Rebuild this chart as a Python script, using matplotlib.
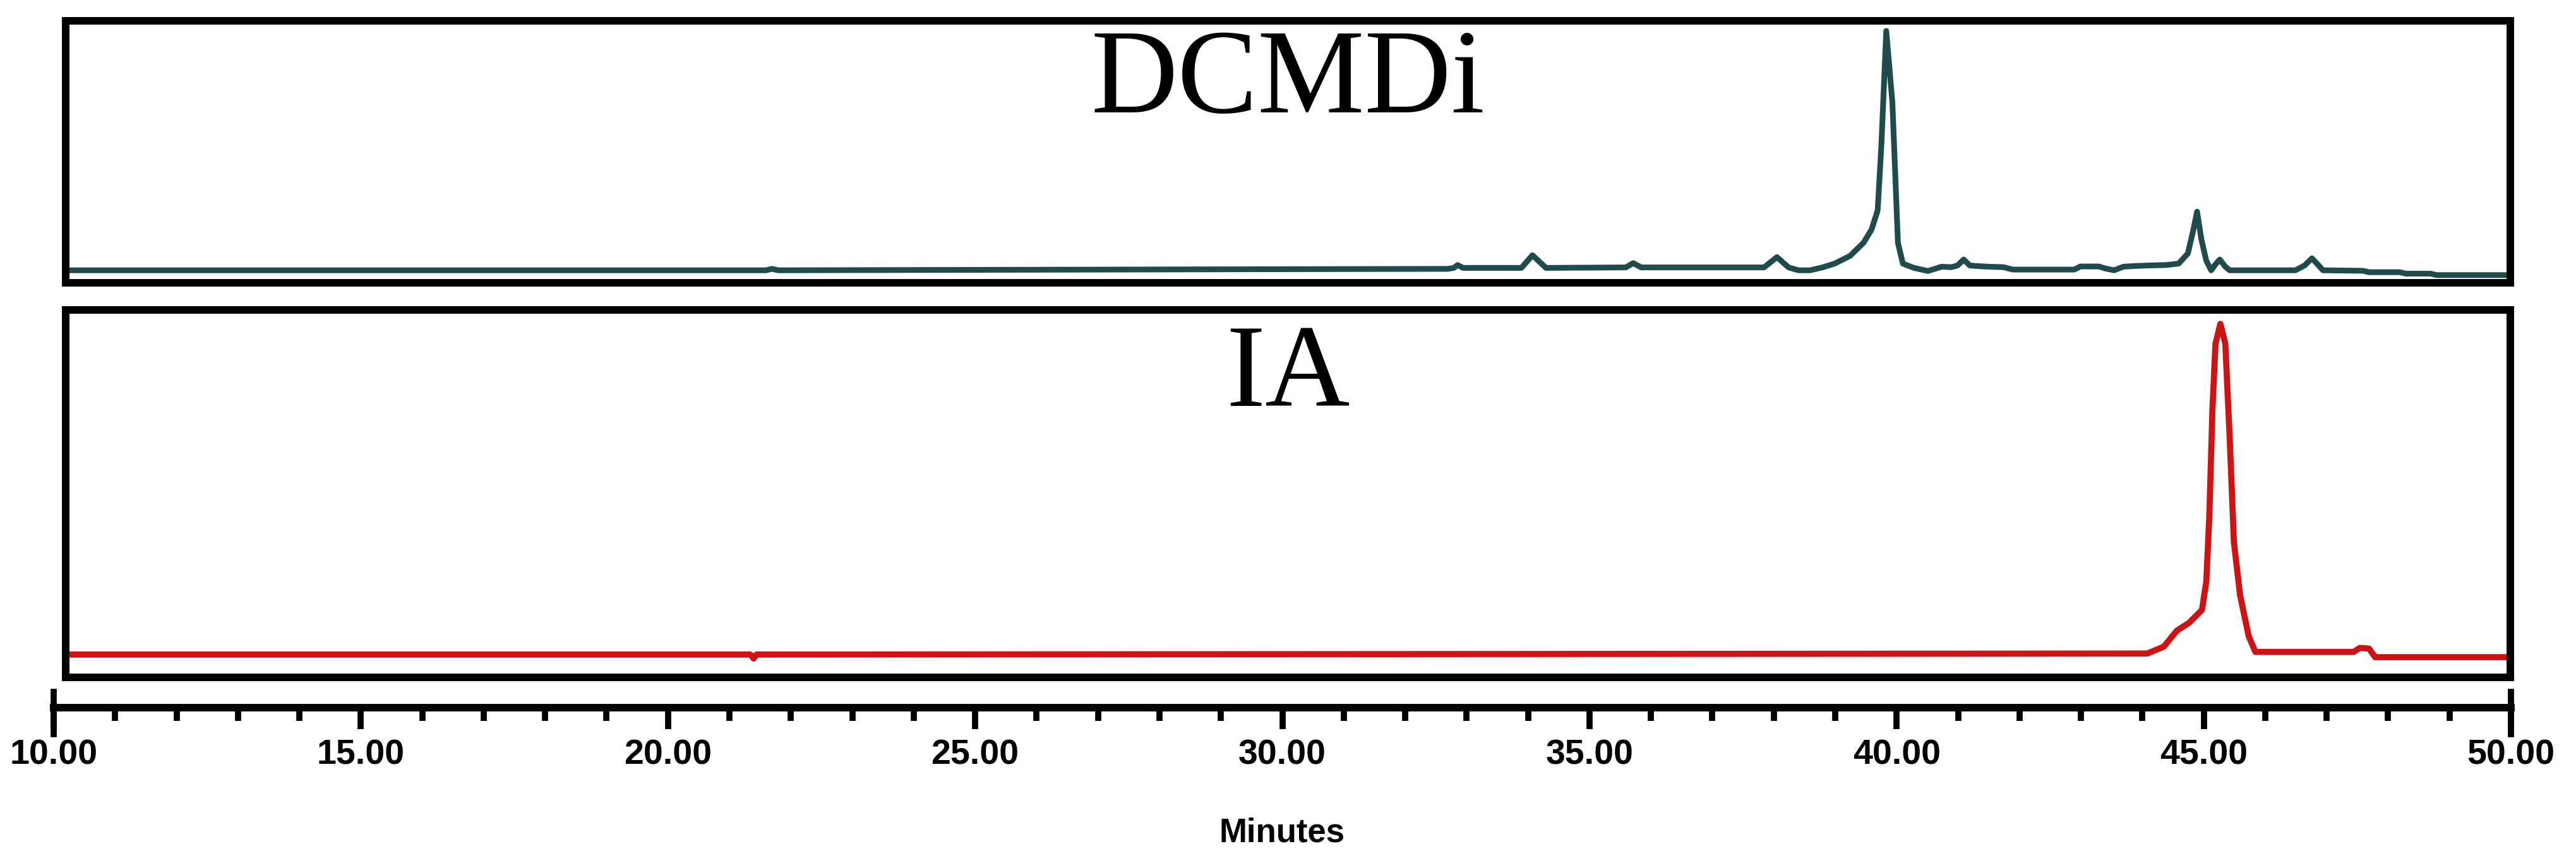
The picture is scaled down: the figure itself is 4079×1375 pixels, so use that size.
import matplotlib
matplotlib.use("Agg")
import matplotlib.pyplot as plt
from matplotlib.ticker import FixedLocator, MultipleLocator

# DCMDi trace (minutes, relative response)
dcmdi_t = [10.2, 21.6, 21.7, 21.8, 32.7, 32.8, 32.86, 32.95, 33.9, 34.08, 34.3,
           35.6, 35.72, 35.85, 37.85, 38.06, 38.25, 38.41, 38.6, 38.8, 39.0,
           39.25, 39.47, 39.6, 39.70, 39.76, 39.84, 39.94, 40.03, 40.11, 40.29,
           40.52, 40.74, 40.9, 41.0, 41.1, 41.2, 41.3, 41.5, 41.75, 41.9, 42.9,
           43.0, 43.3, 43.4, 43.55, 43.7, 43.9, 44.1, 44.4, 44.6, 44.75, 44.84,
           44.9, 44.97, 45.05, 45.13, 45.2, 45.27, 45.36, 45.43, 46.5, 46.65,
           46.77, 46.88, 46.95, 47.6, 47.7, 48.2, 48.3, 48.7, 48.8, 50.0]
dcmdi_y = [0.0, 0.0, 0.6, 0.0, 0.6, 1.0, 2.2, 1.0, 1.0, 6.3, 1.0,
           1.2, 3.0, 1.2, 1.2, 5.5, 1.2, 0.0, 0.0, 1.2, 2.8,
           6.0, 11.5, 17.0, 25.0, 52.0, 100.0, 70.0, 11.5, 2.8, 1.0,
           -0.3, 1.5, 1.3, 2.0, 4.5, 2.0, 1.8, 1.5, 1.3, 0.3, 0.3,
           1.6, 1.6, 0.8, 0.0, 1.5, 1.8, 2.0, 2.2, 2.8, 7.0, 17.0,
           24.5, 13.0, 4.0, 0.0, 2.5, 4.5, 1.5, 0.0, 0.0, 2.0,
           5.0, 2.0, 0.0, -0.2, -0.8, -0.8, -1.4, -1.4, -2.0, -2.0]

# IA trace (minutes, relative response)
ia_t = [10.2, 21.35, 21.4, 21.45, 44.09, 44.36, 44.57, 44.77, 44.98, 45.05,
        45.1, 45.15, 45.2, 45.28, 45.36, 45.43, 45.5, 45.6, 45.74, 45.85,
        47.45, 47.55, 47.7, 47.8, 50.0]
ia_y = [0.0, 0.0, -1.2, 0.0, 0.3, 2.4, 7.2, 9.6, 13.5, 22.0,
        42.0, 74.0, 94.0, 100.0, 94.0, 66.0, 34.0, 18.0, 5.6, 0.8,
        0.8, 2.0, 1.8, -0.8, -0.8]

major_ticks = [10, 15, 20, 25, 30, 35, 40, 45, 50]
tick_labels = ["10.00", "15.00", "20.00", "25.00", "30.00",
               "35.00", "40.00", "45.00", "50.00"]

W, H = 4080, 1375
fig = plt.figure(figsize=(W / 100, H / 100), dpi=100)


def px_axes(x0, y0, x1, y1):
    return fig.add_axes([x0 / W, 1 - y1 / H, (x1 - x0) / W, (y1 - y0) / H])


ax_top = px_axes(104, 33, 3975, 447.5)
ax_bot = px_axes(104, 491, 3975, 1073)
ax_x = px_axes(85, 1096, 3976, 1121)

ax_top.plot(dcmdi_t, dcmdi_y, color="#1f4b4c", linewidth=6.5, solid_joinstyle="round")
ax_bot.plot(ia_t, ia_y, color="#cc1414", linewidth=7, solid_joinstyle="round")

ax_top.set_ylim(-5.1, 104.2)
ax_bot.set_ylim(-6.9, 104.2)

serif = ["Liberation Serif", "DejaVu Serif"]
ax_top.text(0.5, 0.65, "DCMDi", transform=ax_top.transAxes, ha="center",
            va="baseline", fontsize=137, family=serif)
ax_bot.text(0.5, 0.739, "IA", transform=ax_bot.transAxes, ha="center",
            va="baseline", fontsize=134, family=serif)

for ax in (ax_top, ax_bot):
    ax.set_xlim(10.2, 50.0)
    ax.set_xticks([])
    ax.set_yticks([])
    for sp in ax.spines.values():
        sp.set_linewidth(8.6)
        sp.set_color("black")

# time axis
sans = ["Liberation Sans", "DejaVu Sans"]
ax_x.set_xlim(10, 50)
ax_x.set_yticks([])
for side in ("top", "left", "right"):
    ax_x.spines[side].set_visible(False)
ax_x.spines["bottom"].set_linewidth(8.6)
ax_x.xaxis.set_major_locator(FixedLocator(major_ticks))
ax_x.xaxis.set_minor_locator(MultipleLocator(1))
ax_x.set_xticklabels(tick_labels, fontsize=40, fontweight="bold", family=sans)
ax_x.tick_params(axis="x", which="major", length=24.5, width=7, pad=11)
ax_x.tick_params(axis="x", which="minor", length=15, width=7)
for xe in ax_x.get_xlim():
    ax_x.axvline(xe, ymin=-1.68, ymax=1, color="black", linewidth=7, clip_on=False)
ax_x.set_xlabel("Minutes", fontsize=38, fontweight="bold", family=sans, labelpad=52)

fig.savefig("out.png", dpi=100, facecolor="white")
